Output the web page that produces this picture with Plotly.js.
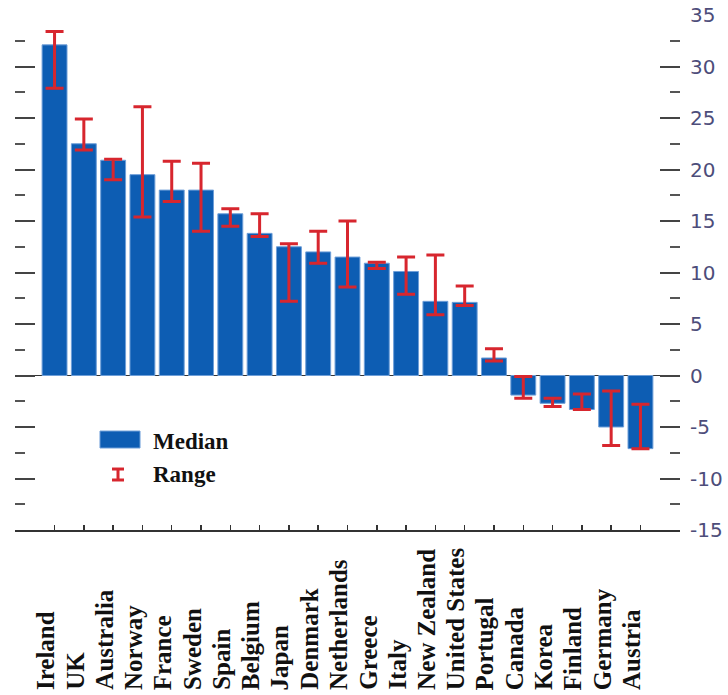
<!DOCTYPE html>
<html>
<head>
<meta charset="utf-8">
<script src="https://cdn.plot.ly/plotly-3.0.1.min.js"></script>
<style>html,body{margin:0;padding:0;background:#fff;}#chart{width:728px;height:695px;}</style>
</head>
<body>
<div id="chart"></div>
<script>
const countries = ["Ireland","UK","Australia","Norway","France","Sweden","Spain","Belgium","Japan","Denmark","Netherlands","Greece","Italy","New Zealand","United States","Portugal","Canada","Korea","Finland","Germany","Austria"];
const medianValues = [32.1,22.5,20.9,19.5,18.0,18.0,15.7,13.8,12.5,12.0,11.5,10.9,10.1,7.2,7.1,1.7,-1.9,-2.7,-3.3,-5.0,-7.1];
const rangeHigh = [33.4,24.9,21.0,26.1,20.8,20.6,16.2,15.7,12.8,14.0,15.0,11.0,11.5,11.7,8.7,2.6,-0.1,-2.2,-1.8,-1.5,-2.8];
const rangeLow = [27.9,21.9,19.0,15.4,16.9,14.0,14.5,13.5,7.2,10.9,8.6,10.4,7.9,5.9,6.8,1.4,-2.2,-3.0,-3.2,-6.8,-7.1];
const yTickValues = [-15,-10,-5,0,5,10,15,20,25,30,35];
const yTickLabels = ["-15","-10","-5","0","5","10","15","20","25","30","35"];
const legendNames = ["Median","Range"];

const barColor = '#0d5db3';
const rangeColor = '#d7262e';

const errPlus = medianValues.map((m,i)=>Math.max(0, rangeHigh[i]-m));
const errMinus = medianValues.map((m,i)=>Math.max(0, m-rangeLow[i]));

const traces = [
  {
    type: 'bar', name: legendNames[0], x: countries, y: medianValues,
    marker: {color: barColor, line: {color: '#6f9fd8', width: 1}},
    error_y: {type: 'data', symmetric: false, array: errPlus, arrayminus: errMinus,
              color: rangeColor, thickness: 3, width: 9},
    showlegend: false
  }
];

const labelFont = {family: 'Liberation Serif', size: 25, color: '#111', weight: 'bold'};
const annotations = countries.map(c => ({
  x: c, xref: 'x', y: -0.3146, yref: 'paper',
  text: c, showarrow: false, textangle: -90,
  xanchor: 'center', yanchor: 'bottom', xshift: -9,
  font: labelFont
}));

// manual legend (key drawn in paper coordinates)
const legFont = {family: 'Liberation Serif', size: 23, color: '#111', weight: 'bold'};
annotations.push(
  {x: 0.204, y: 0.1728, xref: 'paper', yref: 'paper', text: legendNames[0], showarrow: false,
   xanchor: 'left', yanchor: 'middle', font: legFont},
  {x: 0.204, y: 0.1068, xref: 'paper', yref: 'paper', text: legendNames[1], showarrow: false,
   xanchor: 'left', yanchor: 'middle', font: legFont}
);
const shapes = [
  {type: 'rect', xref: 'paper', yref: 'paper', x0: 0.1278, x1: 0.188, y0: 0.1592, y1: 0.1922,
   fillcolor: barColor, line: {color: '#6f9fd8', width: 1}},
  {type: 'line', xref: 'paper', yref: 'paper', x0: 0.1549, x1: 0.1549, y0: 0.0971, y1: 0.1184,
   line: {color: rangeColor, width: 3}},
  {type: 'line', xref: 'paper', yref: 'paper', x0: 0.1459, x1: 0.1639, y0: 0.0971, y1: 0.0971,
   line: {color: rangeColor, width: 3}},
  {type: 'line', xref: 'paper', yref: 'paper', x0: 0.1459, x1: 0.1639, y0: 0.1184, y1: 0.1184,
   line: {color: rangeColor, width: 3}}
];

const layout = {
  width: 728, height: 695,
  margin: {l: 15, r: 48, t: 15, b: 165},
  paper_bgcolor: '#fff', plot_bgcolor: '#fff',
  bargap: 0.15,
  showlegend: false,
  xaxis: {
    type: 'category', range: [-1.35, 21.35],
    showticklabels: false, showline: true, linecolor: '#333', linewidth: 2,
    ticks: 'inside', ticklen: 5, tickcolor: '#333', tickwidth: 1.5,
    showgrid: false, zeroline: false, fixedrange: true
  },
  yaxis: {
    side: 'right', range: [-15, 35], tickmode: 'array', tickvals: yTickValues, ticktext: yTickLabels,
    ticks: 'inside', ticklen: 20, tickwidth: 2, tickcolor: '#444', mirror: 'ticks',
    minor: {dtick: 2.5, tick0: 0, ticks: 'inside', ticklen: 10, tickwidth: 2, tickcolor: '#555', showgrid: false},
    showline: false, showgrid: false,
    zeroline: true, zerolinecolor: '#333', zerolinewidth: 1.5,
    tickfont: {family: 'DejaVu Sans', size: 20, color: '#4d4d7a'},
    ticklabelstandoff: 9, fixedrange: true
  },
  shapes: shapes,
  annotations: annotations
};

Plotly.newPlot('chart', traces, layout, {displayModeBar: false, staticPlot: true});
</script>
</body>
</html>
